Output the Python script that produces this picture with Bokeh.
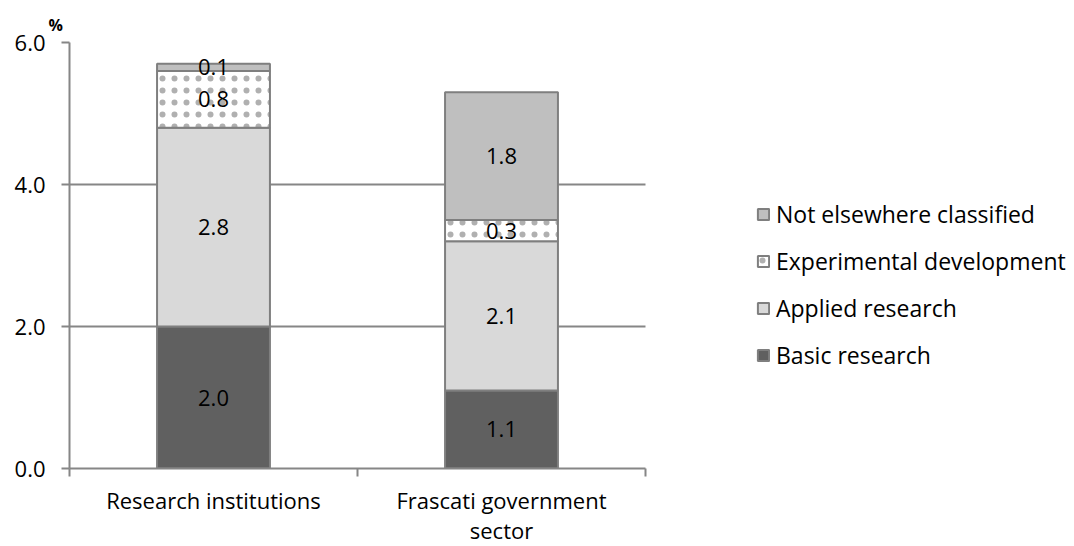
from bokeh.plotting import figure
from bokeh.models import (ColumnDataSource, Range1d, FixedTicker, Legend, LegendItem,
                          NumeralTickFormatter)
from bokeh.core.properties import value
from bokeh.embed import file_html
from bokeh.resources import INLINE

# --- data -------------------------------------------------------------------
categories = ["Research institutions", "Frascati government\nsector"]
series = ["Basic research", "Applied research", "Experimental development",
          "Not elsewhere classified"]
basic = [2.0, 1.1]
applied = [2.8, 2.1]
experimental = [0.8, 0.3]
not_classified = [0.1, 1.8]
y_ticks = [0, 2, 4, 6]

# --- styling ----------------------------------------------------------------
FONT = "Open Sans"
GRID = "#868686"
OUTLINE = "#7f7f7f"
fills = ["#606060", "#d9d9d9", "#ffffff", "#bfbfbf"]
keys = ["basic", "applied", "experimental", "not_classified"]

# layout (pixels): the plotting frame also spans the legend area on the right,
# while the axes and gridlines stop at the last category
LEFT, TOP, BOTTOM = 69, 42, 78
FRAME_W, FRAME_H = 1074 - LEFT, 546 - TOP - BOTTOM
CAT_PX = 288
n = len(categories)
x_end = FRAME_W / CAT_PX

xs = [0.5 + i for i in range(n)]
src = ColumnDataSource(dict(x=xs, basic=basic, applied=applied,
                            experimental=experimental, not_classified=not_classified))

p = figure(frame_width=FRAME_W, frame_height=FRAME_H,
           x_range=Range1d(0, x_end), y_range=Range1d(0, 6),
           output_backend="svg", toolbar_location=None,
           min_border_left=LEFT, min_border_right=0, min_border_top=TOP,
           min_border_bottom=BOTTOM)
p.outline_line_color = None
p.background_fill_color = "white"
p.border_fill_color = "white"

# unit marker above the value axis
p.title.text = "%"
p.title.align = "left"
p.title.offset = -21
p.title.standoff = 14
p.title.text_font = FONT
p.title.text_font_size = "16px"
p.title.text_font_style = "bold"
p.title.text_color = "black"

# stacked bars
bars = p.vbar_stack(keys, x="x", width=0.392, source=src, fill_color=fills,
                    line_color=OUTLINE, line_width=2)

# fine dots for experimental development
exp_glyph = bars[2].glyph
exp_glyph.hatch_pattern = "dot"
exp_glyph.hatch_color = "#b0b0b0"
exp_glyph.hatch_scale = 12
exp_glyph.hatch_weight = 1

# value labels centred in each segment
lx, ly, lt = [], [], []
cols = [basic, applied, experimental, not_classified]
for i, x in enumerate(xs):
    base = 0.0
    for col in cols:
        v = col[i]
        lx.append(x)
        ly.append(base + v / 2)
        lt.append(f"{v:.1f}")
        base += v
p.text(x=lx, y=ly, text=lt, text_font=value(FONT), text_font_size="22px",
       text_align="center", text_baseline="middle", text_color="black")

# grid, limited to the category span
p.xgrid.visible = False
p.ygrid.ticker = FixedTicker(ticks=y_ticks)
p.ygrid.cross_bounds = (0, n)
p.ygrid.grid_line_color = GRID
p.ygrid.grid_line_width = 2
p.ygrid.level = "underlay"

# y axis
ya = p.yaxis[0]
ya.ticker = FixedTicker(ticks=y_ticks)
ya.formatter = NumeralTickFormatter(format="0.0")
ya.axis_line_color = GRID
ya.axis_line_width = 2
ya.major_tick_line_color = GRID
ya.major_tick_line_width = 2
ya.major_tick_out = 8
ya.major_tick_in = 0
ya.minor_tick_line_color = None
ya.major_label_standoff = 16
ya.major_label_text_font = FONT
ya.major_label_text_font_size = "22px"
ya.major_label_text_color = "black"

# x axis: names at category centres, separator ticks between categories
xa = p.xaxis[0]
xa.bounds = (0, n)
xa.ticker = FixedTicker(ticks=xs, minor_ticks=list(range(n + 1)))
xa.major_label_overrides = {x: name for x, name in zip(xs, categories)}
xa.axis_line_color = GRID
xa.axis_line_width = 2
xa.major_tick_line_color = None
xa.major_tick_out = 0
xa.major_tick_in = 0
xa.minor_tick_line_color = GRID
xa.minor_tick_line_width = 2
xa.minor_tick_in = 0
xa.minor_tick_out = 8
xa.major_label_standoff = 8
xa.major_label_text_font = FONT
xa.major_label_text_font_size = "22px"
xa.major_label_text_color = "black"
xa.major_label_text_line_height = 1.0

# legend, top entry is the top of the stack
items = [LegendItem(label=series[k], renderers=[bars[k]]) for k in reversed(range(4))]
legend = Legend(items=items, location=(687, 97), orientation="vertical",
                padding=0, margin=0, border_line_color=None,
                background_fill_alpha=0, glyph_width=14, glyph_height=14,
                label_height=22, spacing=15, label_standoff=6,
                label_text_font=FONT, label_text_font_size="23px",
                label_text_color="black")
p.add_layout(legend)

open("out.html", "w").write(file_html(p, INLINE))
